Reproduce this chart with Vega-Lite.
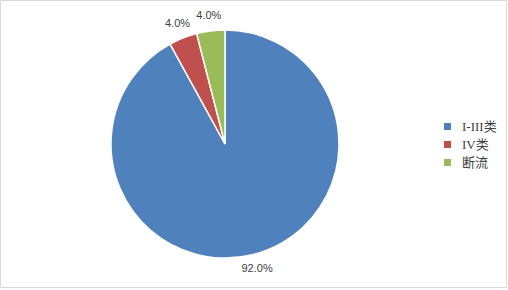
{
  "$schema": "https://vega.github.io/schema/vega-lite/v6.json",
  "width": 506,
  "height": 287,
  "padding": {"left": 0, "top": 0, "right": 2, "bottom": 3},
  "autosize": {"type": "pad"},
  "background": "white",
  "view": {"stroke": "#d9d9d9", "strokeWidth": 1, "fill": "white"},
  "config": {"view": {"stroke": "#d9d9d9", "strokeWidth": 1}, "style": {"cell": {"stroke": "#d9d9d9"}}},
  "data": {
    "values": [
      {"category": "I-III类", "share": 0.92, "idx": 1},
      {"category": "IV类", "share": 0.04, "idx": 2},
      {"category": "断流", "share": 0.04, "idx": 3}
    ]
  },
  "encoding": {
    "theta": {"field": "share", "type": "quantitative", "stack": true},
    "order": {"field": "idx", "type": "quantitative"},
    "color": {
      "field": "category",
      "type": "nominal",
      "scale": {"domain": ["I-III类", "IV类", "断流"], "range": ["#4f81bd", "#c0504d", "#9bbb59"]},
      "legend": {
        "title": null,
        "orient": "none",
        "legendX": 441,
        "legendY": 120,
        "symbolType": "square",
        "symbolSize": 49,
        "symbolStrokeWidth": 0,
        "labelFont": "Liberation Serif, Noto Sans CJK SC",
        "labelFontSize": 13,
        "labelColor": "#404040",
        "labelOffset": 8,
        "rowPadding": 4
      }
    }
  },
  "layer": [
    {
      "mark": {"type": "arc", "x": 225, "y": 144, "outerRadius": 114, "stroke": "white", "strokeWidth": 1.5}
    },
    {
      "mark": {"type": "text", "x": 225, "y": 144, "radius": 129, "font": "Liberation Sans", "fontSize": 11, "fill": "#404040"},
      "encoding": {
        "text": {"field": "share", "type": "quantitative", "format": ".1%"},
        "color": {"value": "#404040"}
      }
    }
  ]
}
